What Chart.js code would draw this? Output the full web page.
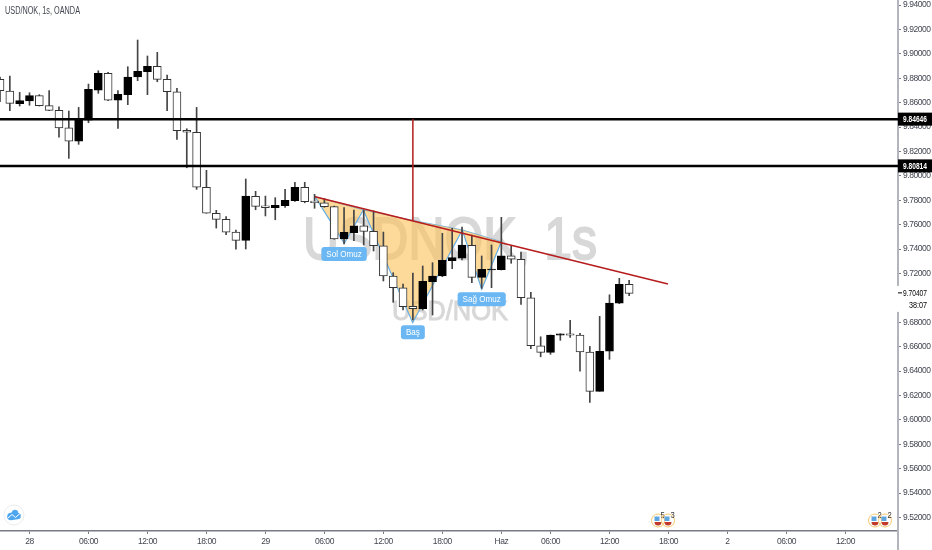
<!DOCTYPE html>
<html>
<head>
<meta charset="utf-8">
<title>USD/NOK, 1s, OANDA</title>
<style>
    html, body { margin: 0; padding: 0; background: #fff; }
    canvas { display: block; }
</style>
<script src="https://cdn.jsdelivr.net/npm/chart.js@4/dist/chart.umd.min.js"></script>
</head>
<body>
<canvas id="chart" width="932" height="550"></canvas>
<script>
// Candles, hourly, first one sits at index -3 (0 is the "28" tick)
const firstIndex = -3;
const opens = [9.8791, 9.8695, 9.8591, 9.8613, 9.8657, 9.8575, 9.8537, 9.8394, 9.8283, 9.8457, 9.8703, 9.8840, 9.8619, 9.8665, 9.8810, 9.8853, 9.8898, 9.8791, 9.8689, 9.8373, 9.8357, 9.7906, 9.7693, 9.7643, 9.7539, 9.7471, 9.7832, 9.7755, 9.7739, 9.7755, 9.7796, 9.7906, 9.7793, 9.7779, 9.7747, 9.7482, 9.7534, 9.7591, 9.7545, 9.7427, 9.7179, 9.7083, 9.6930, 9.6911, 9.7132, 9.7179, 9.7304, 9.7326, 9.7430, 9.7168, 9.7228, 9.7230, 9.7345, 9.7316, 9.7001, 9.6607, 9.6553, 9.6693, 9.6706, 9.6695, 9.6556, 9.6234, 9.6562, 9.6957, 9.7111];
const closes = [9.8698, 9.8594, 9.8616, 9.8657, 9.8575, 9.8537, 9.8392, 9.8283, 9.8463, 9.8709, 9.8840, 9.8619, 9.8668, 9.8810, 9.8857, 9.8898, 9.8791, 9.8689, 9.8370, 9.8357, 9.7906, 9.7693, 9.7643, 9.7539, 9.7471, 9.7834, 9.7750, 9.7739, 9.7758, 9.7799, 9.7906, 9.7788, 9.7779, 9.7747, 9.7482, 9.7537, 9.7591, 9.7545, 9.7427, 9.7179, 9.7083, 9.6927, 9.6911, 9.7135, 9.7179, 9.7307, 9.7329, 9.7433, 9.7168, 9.7234, 9.7236, 9.7345, 9.7316, 9.7001, 9.6607, 9.6553, 9.6695, 9.6706, 9.6693, 9.6556, 9.6234, 9.6562, 9.6957, 9.7111, 9.7037];
const highs = [9.8810, 9.8818, 9.8684, 9.8681, 9.8665, 9.8698, 9.8566, 9.8531, 9.8561, 9.8752, 9.8861, 9.8848, 9.8698, 9.8894, 9.9113, 9.8982, 9.9012, 9.8826, 9.8717, 9.8386, 9.8561, 9.8045, 9.7717, 9.7665, 9.7556, 9.7974, 9.7873, 9.7834, 9.7821, 9.7889, 9.7947, 9.7947, 9.7848, 9.7812, 9.7752, 9.7739, 9.7720, 9.7720, 9.7712, 9.7539, 9.7206, 9.7113, 9.7203, 9.7261, 9.7288, 9.7529, 9.7570, 9.7580, 9.7515, 9.7343, 9.7433, 9.7660, 9.7425, 9.7375, 9.7045, 9.6681, 9.6695, 9.6706, 9.6816, 9.6709, 9.6602, 9.6848, 9.7025, 9.7160, 9.7143];
const lows = [9.8607, 9.8534, 9.8572, 9.8578, 9.8572, 9.8534, 9.8316, 9.8143, 9.8258, 9.8435, 9.8676, 9.8616, 9.8389, 9.8583, 9.8780, 9.8665, 9.8771, 9.8534, 9.8299, 9.8066, 9.7889, 9.7693, 9.7572, 9.7517, 9.7398, 9.7400, 9.7722, 9.7671, 9.7640, 9.7742, 9.7791, 9.7779, 9.7734, 9.7742, 9.7480, 9.7441, 9.7468, 9.7433, 9.7384, 9.7138, 9.6963, 9.6900, 9.6818, 9.6900, 9.6859, 9.7173, 9.7239, 9.7310, 9.7124, 9.7078, 9.7083, 9.7228, 9.7283, 9.6947, 9.6583, 9.6517, 9.6537, 9.6652, 9.6676, 9.6398, 9.6143, 9.6234, 9.6496, 9.6952, 9.7017];

// Axis ticks
const xTickValues = [0, 6, 12, 18, 24, 30, 36, 42, 48, 53, 59, 65, 71, 77, 83];
const xTickLabels = ['28', '06:00', '12:00', '18:00', '29', '06:00', '12:00', '18:00', 'Haz', '06:00', '12:00', '18:00', '2', '06:00', '12:00'];
const yTickValues = [9.52, 9.54, 9.56, 9.58, 9.60, 9.62, 9.64, 9.66, 9.68, 9.70, 9.72, 9.74, 9.76, 9.78, 9.80, 9.82, 9.84, 9.86, 9.88, 9.90, 9.92, 9.94];

// Drawn levels and lines
const levels = [9.84646, 9.80814];
const lastPrice = 9.70407;
const countdown = '38:07';
const trendX = [29.04, 64.95];
const trendY = [9.7829, 9.7113];
const dropX = [39, 39];
const dropY = [9.84646, 9.7634];

// Inverse head and shoulders shape
const shapeX = [29.04, 32.02, 33.96, 38.98, 44.03, 46, 48];
const shapeY = [9.7829, 9.7447, 9.7720, 9.6796, 9.7556, 9.7070, 9.7460];
const neckX = [29.04, 33.96, 39, 44.03, 48];
const neckY = [9.7829, 9.7720, 9.7634, 9.7556, 9.7460];
const noteTexts = ['Sol Omuz', 'Baş', 'Sağ Omuz'];
const noteX = [32, 39, 46];
const noteY = [9.7359, 9.6717, 9.6988];

const FONT = '"Liberation Sans", sans-serif';
const indexes = opens.map(function (v, i) { return firstIndex + i; });
const isUp = opens.map(function (v, i) { return closes[i] > v; });

function linePoints(xs, ys) {
    return xs.map(function (x, i) { return { x: x, y: ys[i] }; });
}

// the reference text is narrower than any installed face, so squeeze it
function squeezed(c, txt, x, y, ratio, outline) {
    c.save();
    c.translate(x, y);
    c.scale(ratio, 1);
    c.fillText(txt, 0, 0);
    if (outline) {
        c.lineWidth = outline;
        c.strokeText(txt, 0, 0);
    }
    c.restore();
}

// Everything TradingView paints around the series
const decorations = {
    id: 'decorations',
    beforeDraw: function (chart) {
        chart.ctx.letterSpacing = '-0.45px';
    },
    beforeDatasetsDraw: function (chart) {
        const c = chart.ctx;
        c.save();
        c.letterSpacing = '0px';
        c.fillStyle = '#d8d8d8';
        c.strokeStyle = '#d8d8d8';
        c.textBaseline = 'alphabetic';
        c.textAlign = 'left';
        c.font = '60px ' + FONT;
        let t = 'USDNOK, 1s';
        squeezed(c, t, 303, 259, 294 / c.measureText(t).width, 2);
        c.font = '28px ' + FONT;
        t = 'USD/NOK';
        squeezed(c, t, 392, 320, 116 / c.measureText(t).width, 1);
        c.restore();
    },
    afterDraw: function (chart) {
        const c = chart.ctx;
        const xs = chart.scales.x;
        const ys = chart.scales.y;
        c.save();
        c.letterSpacing = '0px';

        // title
        c.font = '10px ' + FONT;
        c.fillStyle = '#434651';
        c.textAlign = 'left';
        c.textBaseline = 'middle';
        const title = 'USD/NOK, 1s, OANDA';
        squeezed(c, title, 5, 11.5, 75 / c.measureText(title).width);

        // pattern notes
        noteTexts.forEach(function (txt, i) {
            const px = xs.getPixelForValue(noteX[i]);
            const py = ys.getPixelForValue(noteY[i]);
            c.font = '9.5px ' + FONT;
            const w = c.measureText(txt).width * 0.85;
            c.fillStyle = '#6ab7f3';
            c.beginPath();
            c.roundRect(px - w / 2 - 5, py - 7, w + 10, 14, 3);
            c.fill();
            c.fillStyle = '#ffffff';
            squeezed(c, txt, px - w / 2, py + 0.5, 0.85);
        });

        // axis line runs down to the window edge
        c.fillStyle = '#b2b5be';
        c.fillRect(chart.chartArea.right - 1, chart.chartArea.bottom, 2, 19);

        // level tags on the price axis
        c.font = 'bold 8.5px ' + FONT;
        levels.forEach(function (v) {
            const py = ys.getPixelForValue(v);
            const txt = v.toFixed(5);
            c.fillStyle = '#000000';
            c.fillRect(chart.chartArea.right, py - 6.5, 34, 13);
            c.fillStyle = '#ffffff';
            squeezed(c, txt, 903, py + 0.5, 24 / c.measureText(txt).width);
        });

        // current price and countdown
        const lastY = ys.getPixelForValue(lastPrice);
        c.fillStyle = '#ffffff';
        c.fillRect(chart.chartArea.right - 2, lastY - 7, 36, 26);
        c.fillStyle = '#000000';
        c.fillRect(chart.chartArea.right, lastY - 0.5, 4, 1);
        c.font = '8.5px ' + FONT;
        const last = lastPrice.toFixed(5);
        squeezed(c, last, 903, lastY + 0.5, 24 / c.measureText(last).width);
        squeezed(c, countdown, 909, lastY + 13, 0.85);

        // logo
        c.strokeStyle = '#ececec';
        c.lineWidth = 1;
        c.beginPath();
        c.arc(14, 515, 10, 0, Math.PI * 2);
        c.stroke();
        c.fillStyle = '#4da6ee';
        c.beginPath();
        c.arc(11, 516.5, 3.8, Math.PI * 0.5, Math.PI * 1.5);
        c.arc(15, 513.5, 3.6, Math.PI * 1.1, Math.PI * 1.9);
        c.arc(17.5, 516, 3.3, Math.PI * 1.5, Math.PI * 0.5);
        c.closePath();
        c.fill();
        c.strokeStyle = '#ffffff';
        c.beginPath();
        c.moveTo(8, 518);
        c.lineTo(12, 514.5);
        c.lineTo(15.5, 517.5);
        c.lineTo(20, 513.5);
        c.stroke();

        // earnings / dividend badges
        [[658, '5'], [668, '3'], [875, '2'], [885, '2']].forEach(function (b) {
            const x = b[0];
            c.strokeStyle = '#f8c76d';
            c.lineWidth = 1;
            c.beginPath();
            c.arc(x, 520.5, 6.5, 0, Math.PI * 2);
            c.stroke();
            c.fillStyle = '#5ea6e0';
            c.fillRect(x - 3.5, 516.5, 5, 4.5);
            c.fillStyle = '#c0392b';
            c.beginPath();
            c.arc(x, 522, 3.5, 0, Math.PI);
            c.fill();
            c.font = '8.5px ' + FONT;
            c.fillStyle = '#333333';
            squeezed(c, b[1], x + 2.5, 516, 0.9);
        });
        c.restore();
    }
};

const levelSets = levels.map(function (v) {
    return {
        type: 'line',
        data: linePoints([firstIndex, 88.35], [v, v]),
        borderColor: '#000000',
        borderWidth: 2.5,
        pointRadius: 0,
        order: 1
    };
});

// no room reserved around the plot for half tick labels
function noPadding(scale) {
    scale.paddingLeft = 0;
    scale.paddingRight = 0;
    scale.paddingTop = 0;
    scale.paddingBottom = 0;
}

new Chart(document.getElementById('chart').getContext('2d'), {
    data: {
        datasets: [
            // pattern outline, filled up to the neck line (dataset 1)
            {
                type: 'line',
                data: linePoints(shapeX, shapeY),
                borderColor: '#64aee6',
                borderWidth: 1.2,
                backgroundColor: 'rgba(252, 196, 92, 0.62)',
                fill: { target: 1 },
                pointRadius: 0,
                order: 5
            },
            {
                type: 'line',
                data: linePoints(neckX, neckY),
                borderColor: '#64aee6',
                borderWidth: 1.2,
                pointRadius: 0,
                order: 5
            },
            {
                type: 'bar',
                data: indexes.map(function (x, i) { return { x: x, y: [lows[i], highs[i]] }; }),
                backgroundColor: '#444444',
                barThickness: 1,
                grouped: false,
                order: 4
            },
            {
                type: 'bar',
                data: indexes.map(function (x, i) { return { x: x, y: [opens[i], closes[i]] }; }),
                backgroundColor: isUp.map(function (up) { return up ? '#000000' : '#ffffff'; }),
                borderColor: isUp.map(function (up) { return up ? '#000000' : '#333333'; }),
                borderWidth: 1,
                borderSkipped: false,
                barThickness: 8,
                grouped: false,
                order: 3
            },
            levelSets[0],
            levelSets[1],
            {
                type: 'line',
                data: linePoints(dropX, dropY),
                borderColor: '#b71c1c',
                borderWidth: 1.5,
                pointRadius: 0,
                order: 0
            },
            {
                type: 'line',
                data: linePoints(trendX, trendY),
                borderColor: '#b71c1c',
                borderWidth: 1.5,
                pointRadius: 0,
                order: 0
            }
        ]
    },
    options: {
        responsive: false,
        animation: false,
        devicePixelRatio: 1,
        layout: { padding: 0 },
        plugins: { legend: { display: false }, tooltip: { enabled: false } },
        scales: {
            x: {
                type: 'linear',
                offset: false,
                min: firstIndex,
                max: 88.35,
                afterBuildTicks: function (scale) {
                    scale.ticks = xTickValues.map(function (v) { return { value: v }; });
                },
                afterFit: function (scale) {
                    scale.height = 19;
                    noPadding(scale);
                },
                ticks: {
                    autoSkip: false,
                    maxRotation: 0,
                    padding: 3,
                    color: '#434651',
                    font: { family: FONT, size: 8.5 },
                    callback: function (value) {
                        return xTickLabels[xTickValues.indexOf(value)];
                    }
                },
                grid: { offset: false, drawOnChartArea: false, tickLength: 3, color: '#787b86' },
                border: { color: '#787b86', width: 1.5 }
            },
            y: {
                position: 'right',
                min: 9.5089,
                max: 9.9441,
                afterBuildTicks: function (scale) {
                    scale.ticks = yTickValues.map(function (v) { return { value: v }; });
                },
                afterFit: function (scale) {
                    scale.width = 34;
                    noPadding(scale);
                },
                ticks: {
                    autoSkip: false,
                    padding: 2,
                    color: '#434651',
                    font: { family: FONT, size: 8.5 },
                    callback: function (value) { return value.toFixed(5); }
                },
                grid: { drawOnChartArea: false, tickLength: 3, color: '#787b86' },
                border: { color: '#b2b5be', width: 2 }
            }
        }
    },
    plugins: [decorations]
});
</script>
</body>
</html>
